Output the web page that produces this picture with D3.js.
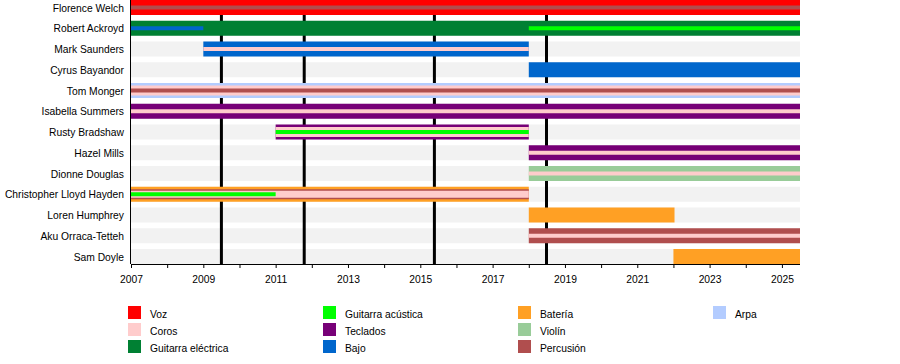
<!DOCTYPE html>
<html><head><meta charset="utf-8">
<script src="https://cdn.jsdelivr.net/npm/d3@7"></script>
<style>body{margin:0;background:#fff}svg{display:block;font-family:"Liberation Sans",Arial,sans-serif}</style>
</head><body><svg id="c" width="900" height="364"></svg>
<script>
const members = ["Florence Welch","Robert Ackroyd","Mark Saunders","Cyrus Bayandor","Tom Monger","Isabella Summers","Rusty Bradshaw","Hazel Mills","Dionne Douglas","Christopher Lloyd Hayden","Loren Humphrey","Aku Orraca-Tetteh","Sam Doyle"];
const instruments = ["Voz","Coros","Guitarra eléctrica","Guitarra acústica","Teclados","Bajo","Batería","Violín","Percusión","Arpa"];
const instrumentColors = ["#ff0000","#ffcccc","#008033","#00ff00","#770077","#0066cc","#ffa024","#99cc99","#b04e4e","#b3ccff"];
const START = 2007, END = 2025.5;
const yearTicks = d3.range(2007, 2026, 1);
const yearLabels = d3.range(2007, 2026, 2);
const albumDates = [2009.5, 2011.79, 2015.39, 2018.49];
// [member, instrument, from, to, tier]  tier 0 = full bar, higher tiers = narrower stripes
const segments = [
  ["Florence Welch","Voz",START,END,0],
  ["Florence Welch","Percusión",START,END,3],
  ["Robert Ackroyd","Guitarra eléctrica",START,END,0],
  ["Robert Ackroyd","Bajo",START,2009,3],
  ["Robert Ackroyd","Guitarra acústica",2018,END,3],
  ["Mark Saunders","Bajo",2009,2018,0],
  ["Mark Saunders","Coros",2009,2018,3],
  ["Cyrus Bayandor","Bajo",2018,END,0],
  ["Tom Monger","Arpa",START,END,0],
  ["Tom Monger","Coros",START,END,1],
  ["Tom Monger","Percusión",START,END,3],
  ["Isabella Summers","Teclados",START,END,0],
  ["Isabella Summers","Coros",START,END,3],
  ["Rusty Bradshaw","Teclados",2011,2018,0],
  ["Rusty Bradshaw","Coros",2011,2018,1],
  ["Rusty Bradshaw","Guitarra acústica",2011,2018,3],
  ["Hazel Mills","Teclados",2018,END,0],
  ["Hazel Mills","Coros",2018,END,3],
  ["Dionne Douglas","Violín",2018,END,0],
  ["Dionne Douglas","Coros",2018,END,3],
  ["Christopher Lloyd Hayden","Batería",START,2018,0],
  ["Christopher Lloyd Hayden","Percusión",START,2018,1],
  ["Christopher Lloyd Hayden","Coros",START,2018,2],
  ["Christopher Lloyd Hayden","Guitarra acústica",START,2011,3],
  ["Loren Humphrey","Batería",2018,2022.03,0],
  ["Aku Orraca-Tetteh","Percusión",2018,END,0],
  ["Aku Orraca-Tetteh","Coros",2018,END,3],
  ["Sam Doyle","Batería",2022,END,0]
];

const tierHeights = [15, 10, 7, 4];
const FS = 10.3;
const svg = d3.select("#c");
const x = d3.scaleLinear().domain([START, END]).range([131, 800]);
const y = d3.scalePoint().domain(members).range([7.5, 256.5]);
const color = d3.scaleOrdinal().domain(instruments).range(instrumentColors);
const axisY = 264;

// row backgrounds
svg.append("g").selectAll("rect").data(members).join("rect")
  .attr("x", x(START)).attr("width", x(END) - x(START))
  .attr("y", d => y(d) - 7.5).attr("height", 15).attr("fill", "#f2f2f2");

// album lines
svg.append("g").selectAll("line").data(albumDates).join("line")
  .attr("x1", d => x(d)).attr("x2", d => x(d)).attr("y1", 0).attr("y2", axisY)
  .attr("stroke", "#000").attr("stroke-width", 3);

// bars
svg.append("g").selectAll("rect").data(segments).join("rect")
  .attr("x", d => x(d[2])).attr("width", d => x(d[3]) - x(d[2]))
  .attr("y", d => y(d[0]) - tierHeights[d[4]] / 2).attr("height", d => tierHeights[d[4]])
  .attr("fill", d => color(d[1]));

// names
svg.append("g").selectAll("text").data(members).join("text")
  .attr("x", 124).attr("y", d => y(d) + 4).attr("text-anchor", "end")
  .attr("font-size", FS).attr("fill", "#000").text(d => d);

// left axis line
svg.append("line").attr("x1", 130.5).attr("x2", 130.5).attr("y1", 0).attr("y2", axisY)
  .attr("stroke", "#000").attr("stroke-width", 1);

// x axis
const ax = svg.append("g").attr("transform", `translate(0,${axisY})`)
  .call(d3.axisBottom(x).tickValues(yearTicks).tickSize(4)
    .tickFormat(d => yearLabels.includes(d) ? String(d) : ""));
ax.select(".domain").attr("d", `M${x(START)},0.5H${x(END)}`).attr("stroke", "#000");
ax.selectAll(".tick line").attr("stroke", "#000");
ax.selectAll(".tick text").attr("font-size", FS).attr("font-family", "Liberation Sans, Arial, sans-serif").attr("fill", "#000").attr("dy", "0.85em").attr("y", 10);

// legend
const legCols = [128, 323, 518, 713];
const lg = svg.append("g").selectAll("g").data(instruments).join("g")
  .attr("transform", (d, i) => `translate(${legCols[Math.floor(i / 3)]},${306 + (i % 3) * 17})`);
lg.append("rect").attr("width", 13).attr("height", 13).attr("fill", d => color(d));
lg.append("text").attr("x", 22).attr("y", 11.5).attr("font-size", FS).attr("fill", "#000").text(d => d);
</script></body></html>
